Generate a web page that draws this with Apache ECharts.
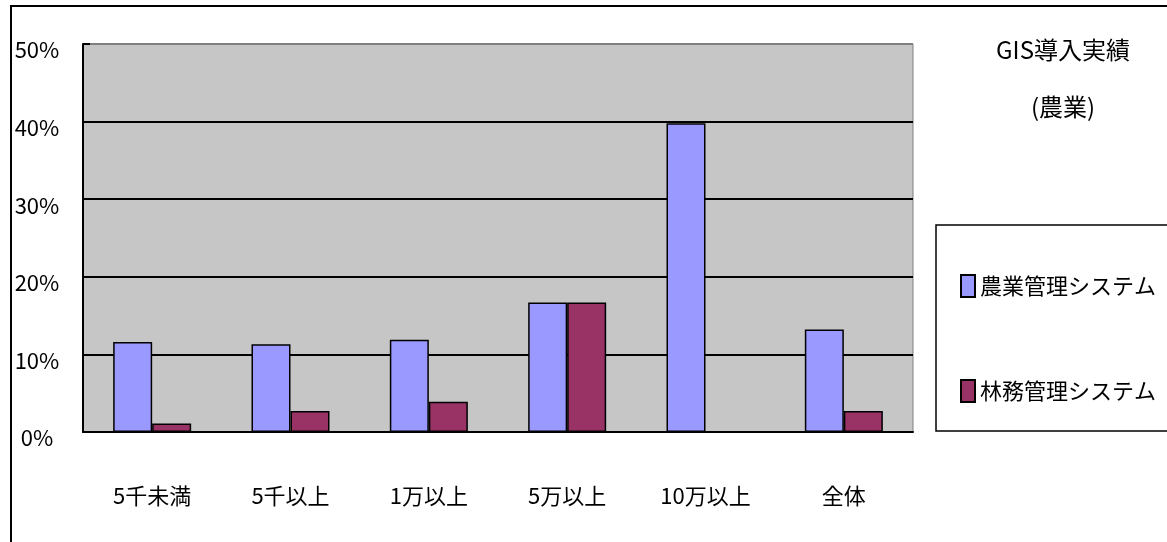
<!DOCTYPE html>
<html>
<head>
<meta charset="utf-8">
<script src="https://cdn.jsdelivr.net/npm/echarts@6/dist/echarts.min.js"></script>
<style>
  html, body { margin: 0; padding: 0; background: #fff; }
  #chart { width: 1167px; height: 542px; }
</style>
</head>
<body>
<div id="chart"></div>
<script>
// data (percent)
const categories = ['5千未満', '5千以上', '1万以上', '5万以上', '10万以上', '全体'];
const agriSystem = [11.6, 11.3, 11.9, 16.7, 39.8, 13.2];
const forestSystem = [1.1, 2.7, 3.9, 16.7, 0, 2.7];
const seriesNames = ['農業管理システム', '林務管理システム'];
const titleText = 'GIS導入実績\n(農業)';

const FONT = "'Noto Sans CJK JP', sans-serif";
const BLUE = '#9999FF';
const WINE = '#993366';

const chart = echarts.init(document.getElementById('chart'));

chart.setOption({
  backgroundColor: '#fff',
  animation: false,
  textStyle: { fontFamily: FONT, color: '#000' },
  title: {
    text: titleText,
    left: 1058,
    top: 16,
    textAlign: 'center',
    textStyle: { fontFamily: FONT, fontSize: 24, fontWeight: 'normal', color: '#000', lineHeight: 57 }
  },
  legend: {
    orient: 'vertical',
    left: 955,
    top: 269,
    itemWidth: 14,
    itemHeight: 22,
    itemGap: 81,
    icon: 'rect',
    textStyle: { fontFamily: FONT, fontSize: 22, color: '#000' },
    data: seriesNames
  },
  graphic: [
    {
      type: 'rect',
      silent: true,
      shape: { x: 11, y: 6, width: 2000, height: 1000 },
      style: { fill: 'none', stroke: '#000', lineWidth: 2 }
    },
    {
      type: 'rect',
      silent: true,
      shape: { x: 936, y: 225, width: 400, height: 206 },
      style: { fill: 'none', stroke: '#000', lineWidth: 1.5 }
    }
  ],
  grid: {
    left: 83,
    top: 44,
    right: 254,
    bottom: 110,
    show: true,
    backgroundColor: '#C6C6C6',
    borderColor: '#808080',
    borderWidth: 1
  },
  xAxis: {
    type: 'category',
    data: categories,
    axisLine: { lineStyle: { color: '#000', width: 2 } },
    axisTick: { inside: true, length: 7, lineStyle: { color: '#000', width: 2 } },
    axisLabel: { margin: 53, fontFamily: FONT, fontSize: 22, color: '#000' }
  },
  yAxis: {
    type: 'value',
    min: 0,
    max: 50,
    interval: 10,
    axisLine: { show: true, lineStyle: { color: '#000', width: 2 } },
    axisTick: { show: true, inside: true, length: 7, lineStyle: { color: '#000', width: 2 } },
    axisLabel: {
      formatter: '{value}%',
      align: 'center',
      verticalAlign: 'top',
      lineHeight: 12,
      margin: 46,
      fontFamily: FONT,
      fontSize: 22,
      color: '#000'
    },
    splitLine: {
      show: true,
      lineStyle: { color: ['#000', '#000', '#000', '#000', '#000', '#808080'], width: 2 }
    }
  },
  series: [
    {
      name: seriesNames[0],
      type: 'bar',
      data: agriSystem,
      barWidth: 39,
      barGap: '0%',
      itemStyle: { color: BLUE, borderColor: '#000', borderWidth: 1.5 }
    },
    {
      name: seriesNames[1],
      type: 'bar',
      data: forestSystem,
      barWidth: 39,
      barGap: '0%',
      itemStyle: { color: WINE, borderColor: '#000', borderWidth: 1.5 }
    }
  ]
});
</script>
</body>
</html>
